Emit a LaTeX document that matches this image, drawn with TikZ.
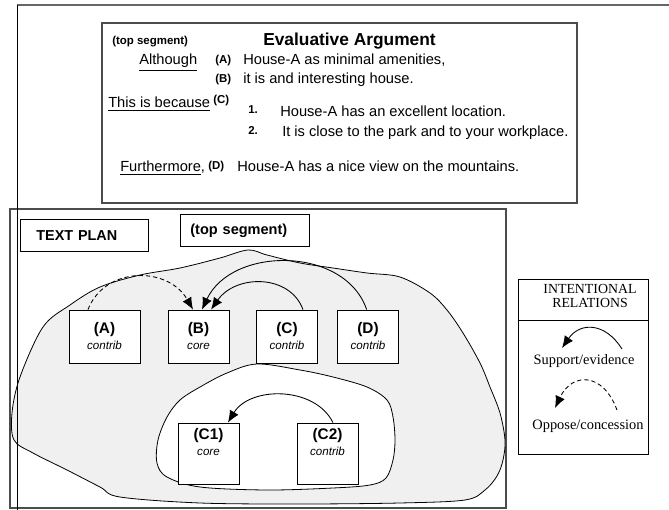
\documentclass[tikz,border=0pt]{standalone}
\usepackage{fontspec}
\setmainfont{Liberation Sans}
\newfontfamily\legendserif{Liberation Serif}
\usetikzlibrary{arrows.meta}
\newcommand\argtext{\fontsize{11}{13}\selectfont}
\newcommand\argtag{\fontsize{8.6}{10}\selectfont\bfseries}
\newcommand\segname{\fontsize{11.5}{10.5}\selectfont\bfseries}
\newcommand\segrole{\fontsize{8.7}{10.5}\selectfont\itshape}
\tikzset{
  txt/.style={anchor=base west, inner sep=0pt},
  seg/.style={draw, fill=white, line width=0.6pt, minimum width=45.75pt, minimum height=39.75pt, align=center, inner sep=1pt},
  support/.style={line width=0.65pt, -{Latex[length=9pt,width=7.5pt]}},
  oppose/.style={support, dash pattern=on 3.2pt off 2.2pt},
  blob/.style={draw, line width=0.6pt, smooth cycle, tension=0.55},
}
\begin{document}
\begin{tikzpicture}[x=0.75pt,y=-0.75pt]
\useasboundingbox (0,0) rectangle (669,510);
% outer frame
\draw[black!60, line width=1.3pt] (17,5) -- (669,5);
% evaluative argument
\draw[black!70, line width=0.9pt] (102,23) rectangle (577,203);
\node[txt, font=\argtag] (topseg) at (112,45) {(top segment)};
\node[txt, font=\fontsize{13}{15}\selectfont\bfseries] (title) at (263,46) {Evaluative Argument};
\node[txt, font=\argtext] (although) at (139,65) {\underline{Although}};
\node[txt, font=\argtag] (tagA) at (215,64) {(A)};
\node[txt, font=\argtext] (textA) at (243,65) {House-A as minimal amenities,};
\node[txt, font=\argtag] (tagB) at (215,83) {(B)};
\node[txt, font=\argtext] (textB) at (243,84) {it is and interesting house.};
\node[txt, font=\argtext] (because) at (108,108) {\underline{This is because}};
\node[txt, font=\argtag] (tagC) at (213,104) {(C)};
\node[txt, font=\argtag] (num1) at (248,114) {1.};
\node[txt, font=\argtext] (textC1) at (280,117) {House-A has an excellent location.};
\node[txt, font=\argtag] (num2) at (248,135) {2.};
\node[txt, font=\argtext] (textC2) at (282,137) {It is close to the park and to your workplace.};
\node[txt, font=\argtext] (further) at (120,172) {\underline{Furthermore},};
\node[txt, font=\argtag] (tagD) at (208,170) {(D)};
\node[txt, font=\argtext] (textD) at (237,172) {House-A has a nice view on the mountains.};
% text plan
\draw[black!70, line width=0.9pt] (10,209) rectangle (506,508);
\draw[blob, fill=black!6] plot coordinates {(248,250) (267,255) (300,263) (333,268) (367,273) (400,277) (430,293) (447,310) (463,333) (480,363) (490,387) (500,413) (505,440) (503,460) (497,476) (485,490) (465,500) (400,503) (300,504) (200,503) (120,497) (100,487) (67,470) (33,453) (14,440) (12,413) (20,377) (43,327) (70,305) (100,287) (140,275) (180,268) (220,258)};
\draw[blob, fill=white] plot coordinates {(257,364) (300,370) (333,377) (367,387) (387,400) (393,417) (395,440) (393,460) (386,478) (370,485) (333,488) (267,490) (200,487) (167,477) (157,463) (158,440) (167,417) (180,400) (200,387) (227,373)};
\draw[black, line width=0.6pt] (17.5,5) -- (17.5,510);
\node[draw, fill=white, line width=0.6pt, anchor=north west, inner xsep=12pt, text width=72pt, minimum height=24pt, align=left, font=\fontsize{10.8}{12}\selectfont\bfseries] (plan) at (20,219) {TEXT PLAN};
\node[draw, fill=white, line width=0.6pt, anchor=north west, inner xsep=7.5pt, text width=81.75pt, minimum height=24pt, align=left, font=\fontsize{10.9}{12}\selectfont\bfseries] (top) at (180,214) {(top segment)};
\node[seg, minimum width=53.25pt] (A) at (104.5,336.5) {\segname (A)\\\segrole contrib};
\node[seg] (B) at (198.5,336.5) {\segname (B)\\\segrole core};
\node[seg] (C) at (287,336.5) {\segname (C)\\\segrole contrib};
\node[seg] (D) at (368,336.5) {\segname (D)\\\segrole contrib};
\node[seg, minimum height=45.75pt] (C1) at (208.5,453.5) {\segname (C1)\\\segrole core\\[5pt]};
\node[seg, minimum height=45.75pt] (C2) at (327.5,453.5) {\segname (C2)\\\segrole contrib\\[5pt]};
% relations
\draw[oppose] ([xshift=-12.4pt]A.north) .. controls (105,266) and (168,266) .. ([xshift=-4.1pt]B.north);
\draw[support] ([xshift=-1pt]D.north) .. controls (345,246) and (232,246) .. ([xshift=2.6pt]B.north);
\draw[support] ([xshift=12pt]C.north) .. controls (290,274) and (236,274) .. ([xshift=9.4pt]B.north);
\draw[support] ([xshift=4.1pt]C2.north) .. controls (315,386) and (250,386) .. ([xshift=14.6pt]C1.north);
% legend
\node[draw, line width=0.6pt, minimum width=97.5pt, minimum height=131.25pt] (legend) at (583,366.5) {};
\draw[line width=0.6pt] ([yshift=-31.5pt]legend.north west) -- ([yshift=-31.5pt]legend.north east);
\node[anchor=base, inner sep=0pt, font=\legendserif\fontsize{10.4}{12}\selectfont] (rel1) at (590,294) {INTENTIONAL};
\node[anchor=base, inner sep=0pt, font=\legendserif\fontsize{10.4}{12}\selectfont] (rel2) at (590,308) {RELATIONS};
\coordinate (sup-s) at (622,349);
\coordinate (sup-e) at (562,348);
\draw[support] (sup-s) .. controls (605,322) and (580,322) .. (sup-e);
\node[anchor=base, inner sep=0pt, font=\legendserif\fontsize{10.8}{12}\selectfont] (suplab) at (584,364) {Support/evidence};
\coordinate (opp-s) at (617,410);
\coordinate (opp-e) at (555,408);
\draw[oppose] (opp-s) .. controls (603,372) and (572,372) .. (opp-e);
\node[anchor=base, inner sep=0pt, font=\legendserif\fontsize{10.8}{12}\selectfont] (opplab) at (588,429) {Oppose/concession};
\end{tikzpicture}
\end{document}
